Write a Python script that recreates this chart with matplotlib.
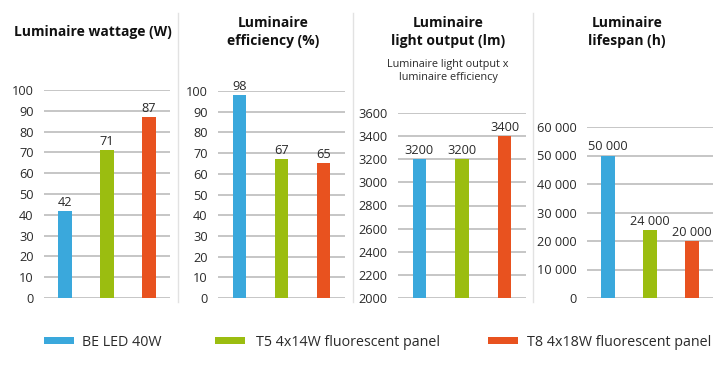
import matplotlib
matplotlib.use("Agg")
import matplotlib.pyplot as plt
from matplotlib.lines import Line2D
from matplotlib.ticker import FuncFormatter

plt.rcParams['font.family'] = ['Open Sans', 'DejaVu Sans']

lamps = ["BE LED 40W", "T5 4x14W fluorescent panel", "T8 4x18W fluorescent panel"]
colors = ["#3aa8dc", "#9bbd10", "#e8521f"]

wattage = [42, 71, 87]
efficiency = [98, 67, 65]
light_output = [3200, 3200, 3400]
lifespan = [50000, 24000, 20000]

titles = ["Luminaire wattage (W)", "Luminaire\nefficiency (%)",
          "Luminaire\nlight output (lm)", "Luminaire\nlifespan (h)"]
subtitle = "Luminaire light output x\nluminaire efficiency"

TXT = '#2a2a2a'
FS = 9.2


def spaced(v, pos=None):
    return f"{int(v):,}".replace(",", " ")


W, H = 725, 365
fig = plt.figure(figsize=(W / 100, H / 100), dpi=100)


def fx(px):
    return px / W


def fy(px):
    return 1 - px / H


# (left px, right px, top px, ylim, ticks, data, formatter)
panels = [
    (44, 170, 90, (0, 100), range(0, 101, 10), wattage, None),
    (218, 345, 91, (0, 100), range(0, 101, 10), efficiency, None),
    (398, 526, 113, (2000, 3600), range(2000, 3601, 200), light_output, None),
    (587, 713, 127, (0, 60000), range(0, 60001, 10000), lifespan, spaced),
]
bottom_px = 298

for l, r, t, ylim, ticks, vals, fmt in panels:
    ax = fig.add_axes([fx(l), fy(bottom_px), fx(r - l), (bottom_px - t) / H])
    x = range(len(vals))
    ax.bar(x, [v - ylim[0] for v in vals], bottom=ylim[0], width=0.31,
           color=colors, zorder=3)
    ax.set_xlim(-0.5, 2.5)
    ax.set_ylim(*ylim)
    ax.set_yticks(list(ticks))
    if fmt:
        ax.yaxis.set_major_formatter(FuncFormatter(fmt))
    ax.set_xticks([])
    ax.grid(axis='y', color='#bcbcbc', linewidth=1.2, zorder=0)
    for s in ax.spines.values():
        s.set_visible(False)
    ax.tick_params(axis='y', length=0, pad=7.5, labelsize=FS, labelcolor=TXT)
    for xi, v in zip(x, vals):
        lab = spaced(v) if fmt else str(v)
        ax.annotate(lab, (xi, v), xytext=(0, 1.5), textcoords='offset points',
                    ha='center', va='bottom', fontsize=FS, color=TXT,
                    annotation_clip=False)

# titles
fig.text(fx(93), fy(32), titles[0], ha='center', va='center',
         fontsize=10, fontweight='bold', color='#111111')
for cx, tt in zip([273, 448, 627], titles[1:]):
    fig.text(fx(cx), fy(32), tt, ha='center', va='center',
             fontsize=10, fontweight='bold', color='#111111', linespacing=1.45)
fig.text(fx(448), fy(71), subtitle, ha='center', va='center',
         fontsize=7.8, color=TXT, linespacing=1.15)

# separators
for sx in [178, 353, 533]:
    fig.add_artist(Line2D([fx(sx), fx(sx)], [fy(13), fy(302)],
                          color='#e2e2e2', linewidth=1))

# legend
for (px, tx), c, lab in zip([(44, 82), (215, 256), (488, 527)], colors, lamps):
    fig.patches.append(plt.Rectangle((fx(px), fy(344)), fx(30), 7 / H,
                                     transform=fig.transFigure,
                                     facecolor=c, edgecolor='none'))
    fig.text(fx(tx), fy(342), lab, ha='left', va='center',
             fontsize=10.3, color=TXT)

fig.savefig("out.png", dpi=100)
